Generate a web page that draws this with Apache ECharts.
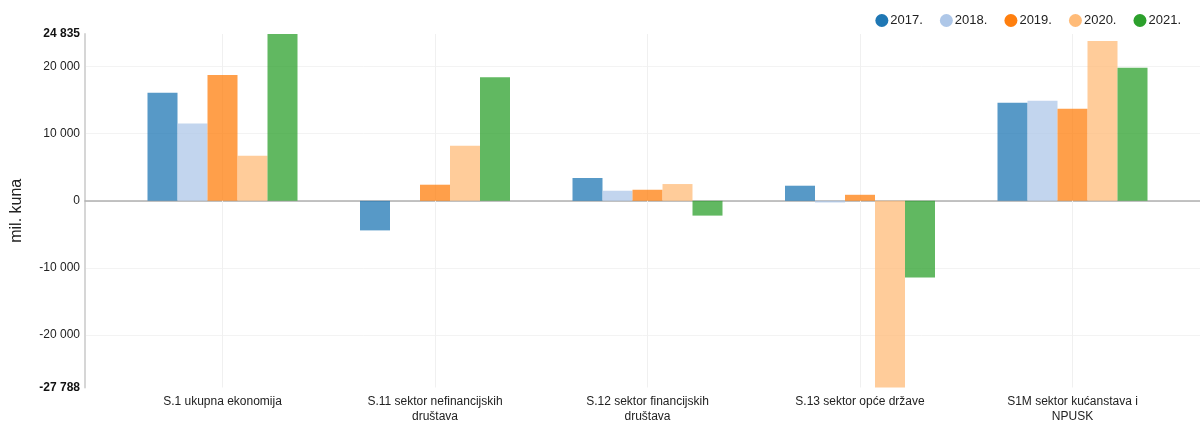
<!DOCTYPE html>
<html>
<head>
<meta charset="utf-8">
<script src="https://cdn.jsdelivr.net/npm/echarts@6/dist/echarts.min.js"></script>
<style>
html,body{margin:0;padding:0;background:#fff;}
#chart{width:1200px;height:421px;}
</style>
</head>
<body>
<div id="chart"></div>
<script>
const categories = [
  'S.1 ukupna ekonomija',
  'S.11 sektor nefinancijskih\ndruštava',
  'S.12 sektor financijskih\ndruštava',
  'S.13 sektor opće države',
  'S1M sektor kućanstava i\nNPUSK'
];
const years = ['2017.', '2018.', '2019.', '2020.', '2021.'];
const colors = ['#1f77b4', '#aec7e8', '#ff7f0e', '#ffbb78', '#2ca02c'];
const values2017 = [16100, -4400, 3400, 2250, 14600];
const values2018 = [11500, 0, 1500, -250, 14900];
const values2019 = [18750, 2400, 1650, 900, 13700];
const values2020 = [6700, 8200, 2500, -27788, 23800];
const values2021 = [24835, 18400, -2200, -11400, 19800];
const yMin = -27788;
const yMax = 24835;
const seriesValues = [values2017, values2018, values2019, values2020, values2021];

function fmt(v) {
  const s = String(Math.abs(Math.round(v))).replace(/\B(?=(\d{3})+(?!\d))/g, ' ');
  return (v < 0 ? '-' : '') + s;
}

const chart = echarts.init(document.getElementById('chart'), null, {renderer: 'canvas'});

const TOP = 34, BOTTOM = 33.5;

const series = years.map((y, i) => ({
  name: y,
  type: 'bar',
  xAxisIndex: 1,
  yAxisIndex: 1,
  data: seriesValues[i],
  barWidth: 30,
  barGap: '0%',
  z: 3,
  itemStyle: {color: colors[i], opacity: 0.75}
}));

series.push({
  name: 'vlines',
  type: 'line',
  xAxisIndex: 1,
  yAxisIndex: 1,
  data: [],
  z: 1,
  silent: true,
  markLine: {
    z: 1,
    silent: true,
    symbol: 'none',
    label: {show: false},
    lineStyle: {color: '#f0f0f0', width: 1, type: 'solid'},
    data: categories.map(c => ({xAxis: c}))
  }
});

const option = {
  animation: false,
  backgroundColor: '#ffffff',
  color: colors,
  legend: {
    data: years,
    right: 14,
    top: 9,
    icon: 'circle',
    itemWidth: 13,
    itemHeight: 13,
    itemGap: 17,
    itemStyle: {opacity: 1},
    textStyle: {fontFamily: 'Liberation Sans, Arial, sans-serif', fontSize: 13, color: '#222', padding: [0, 0, 0, -3]}
  },
  grid: [
    {left: 85, right: 0, top: TOP, bottom: BOTTOM, containLabel: false, outerBoundsMode: 'none'},
    {left: 116.25, right: 21.25, top: TOP, bottom: BOTTOM, containLabel: false, outerBoundsMode: 'none'}
  ],
  xAxis: [
    {
      gridIndex: 0, type: 'value', min: 0, max: 1,
      axisLine: {show: true, onZero: true, lineStyle: {color: '#b0b0b0', width: 1.5}},
      axisTick: {show: false}, axisLabel: {show: false}, splitLine: {show: false}
    },
    {
      gridIndex: 1, type: 'category', data: categories, position: 'bottom',
      axisLine: {show: false, onZero: false}, axisTick: {show: false}, splitLine: {show: false},
      axisLabel: {
        interval: 0, margin: 7, color: '#222', fontSize: 12, lineHeight: 14.5,
        fontFamily: 'Liberation Sans, Arial, sans-serif'
      }
    }
  ],
  yAxis: [
    {
      gridIndex: 0, type: 'value', min: yMin, max: yMax, splitNumber: 5,
      name: 'mil. kuna', nameLocation: 'middle', nameGap: 60,
      nameTextStyle: {fontSize: 16, color: '#222', fontFamily: 'Liberation Sans, Arial, sans-serif'},
      axisLine: {show: true, lineStyle: {color: '#d6d6d6', width: 2}},
      axisTick: {show: false},
      splitLine: {show: true, showMinLine: false, showMaxLine: false, lineStyle: {color: '#f3f3f3', width: 1}},
      axisLabel: {
        showMinLabel: true, showMaxLabel: true, margin: 5,
        color: '#222', fontSize: 12, fontFamily: 'Liberation Sans, Arial, sans-serif',
        formatter: function (v) {
          if (Math.abs(v - yMin) < 1e-6 || Math.abs(v - yMax) < 1e-6) return '{b|' + fmt(v) + '}';
          return fmt(v);
        },
        rich: {b: {fontWeight: 'bold', fontSize: 12, color: '#111', fontFamily: 'Liberation Sans, Arial, sans-serif'}}
      }
    },
    {
      gridIndex: 1, type: 'value', min: yMin, max: yMax, show: false,
      splitLine: {show: false}
    }
  ],
  series: series
};

chart.setOption(option);
</script>
</body>
</html>
